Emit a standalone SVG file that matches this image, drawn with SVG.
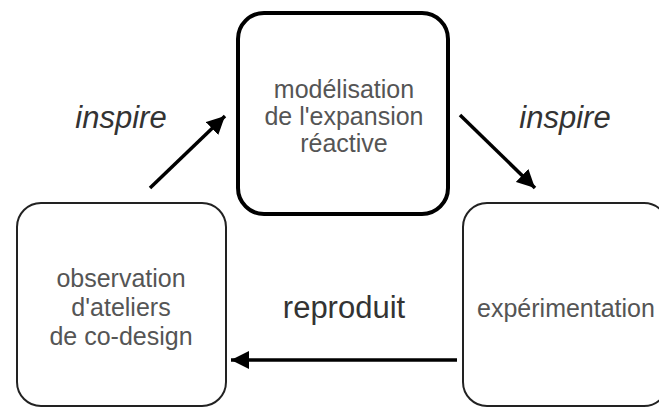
<svg xmlns="http://www.w3.org/2000/svg" width="659" height="408" viewBox="0 0 659 408">
<style>
.box{fill:#fff;stroke:#222;stroke-width:2}
.main{fill:#fff;stroke:#000;stroke-width:4}
.nt{font-family:"Liberation Sans",Arial,sans-serif;font-size:25px;fill:#555;text-anchor:middle}
.lbl{font-family:"Liberation Sans",Arial,sans-serif;font-size:31px;fill:#333;text-anchor:middle}
.conn{stroke:#000;stroke-width:3.5;fill:none}
</style>
<defs>
<marker id="ah" markerUnits="userSpaceOnUse" markerWidth="20" markerHeight="18" refX="18" refY="9" orient="auto">
<path d="M0,0 L18,9 L0,18 Z" fill="#000"/>
</marker>
</defs>
<rect width="659" height="408" fill="#fff"/>
<g id="node-modelisation">
<rect class="main" x="238" y="13" width="210" height="201" rx="26"/>
<text class="nt" x="344" y="98">modélisation</text>
<text class="nt" x="344" y="125">de l'expansion</text>
<text class="nt" x="344" y="152">réactive</text>
</g>
<g id="node-observation">
<rect class="box" x="17" y="203" width="209" height="203" rx="24"/>
<text class="nt" x="121" y="287">observation</text>
<text class="nt" x="121" y="316">d'ateliers</text>
<text class="nt" x="121" y="345">de co-design</text>
</g>
<g id="node-experimentation">
<rect class="box" x="463" y="203" width="205" height="203" rx="24"/>
<text class="nt" x="566" y="317">expérimentation</text>
</g>
<g id="connectors">
<line class="conn" x1="150" y1="188" x2="225" y2="116" marker-end="url(#ah)"/>
<line class="conn" x1="460" y1="115" x2="535" y2="188" marker-end="url(#ah)"/>
<line class="conn" x1="457" y1="360" x2="231" y2="360" marker-end="url(#ah)"/>
<text class="lbl" x="121" y="128" font-style="italic">inspire</text>
<text class="lbl" x="565" y="128" font-style="italic">inspire</text>
<text class="lbl" x="344" y="318">reproduit</text>
</g>
</svg>
